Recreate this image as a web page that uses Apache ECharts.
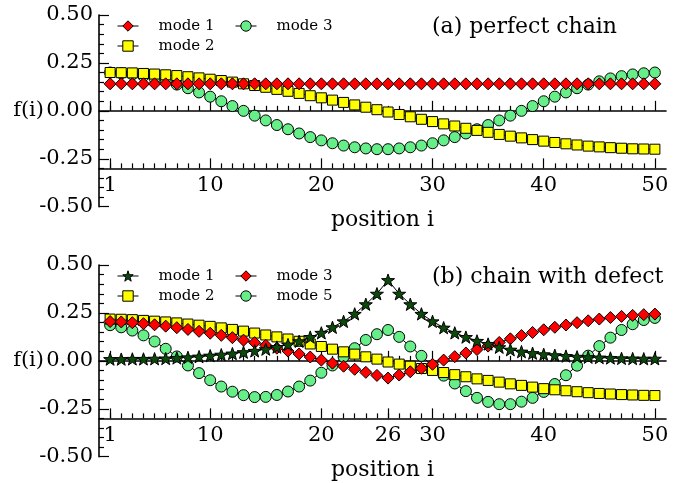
<!DOCTYPE html>
<html><head><meta charset="utf-8">
<script src="https://cdn.jsdelivr.net/npm/echarts@6/dist/echarts.min.js"></script>
<style>html,body{margin:0;padding:0;background:#fff}#c{width:697px;height:483px}</style>
</head><body><div id="c"></div>
<script>
const positions = [1,2,3,4,5,6,7,8,9,10,11,12,13,14,15,16,17,18,19,20,21,22,23,24,25,26,27,28,29,30,31,32,33,34,35,36,37,38,39,40,41,42,43,44,45,46,47,48,49,50];

// (a) perfect chain
const aMode1 = [0.141,0.141,0.141,0.141,0.141,0.141,0.141,0.141,0.141,0.141,0.141,0.141,0.141,0.141,0.141,0.141,0.141,0.141,0.141,0.141,0.141,0.141,0.141,0.141,0.141,0.141,0.141,0.141,0.141,0.141,0.141,0.141,0.141,0.141,0.141,0.141,0.141,0.141,0.141,0.141,0.141,0.141,0.141,0.141,0.141,0.141,0.141,0.141,0.141,0.141];
const aMode2 = [0.200,0.199,0.198,0.195,0.192,0.188,0.184,0.178,0.172,0.165,0.158,0.150,0.141,0.132,0.123,0.112,0.102,0.091,0.079,0.068,0.056,0.044,0.031,0.019,0.006,-0.006,-0.019,-0.031,-0.044,-0.056,-0.068,-0.079,-0.091,-0.102,-0.112,-0.123,-0.132,-0.141,-0.150,-0.158,-0.165,-0.172,-0.178,-0.184,-0.188,-0.192,-0.195,-0.198,-0.199,-0.200];
const aMode3 = [0.200,0.196,0.190,0.181,0.169,0.154,0.137,0.118,0.096,0.074,0.050,0.025,0.000,-0.025,-0.050,-0.074,-0.096,-0.118,-0.137,-0.154,-0.169,-0.181,-0.190,-0.196,-0.200,-0.200,-0.196,-0.190,-0.181,-0.169,-0.154,-0.137,-0.118,-0.096,-0.074,-0.050,-0.025,0.000,0.025,0.050,0.074,0.096,0.118,0.137,0.154,0.169,0.181,0.190,0.196,0.200];

// (b) chain with defect
const bMode1 = [0.009,0.009,0.010,0.010,0.011,0.012,0.015,0.018,0.022,0.027,0.032,0.038,0.045,0.052,0.061,0.072,0.085,0.102,0.124,0.146,0.175,0.206,0.245,0.295,0.350,0.421,0.350,0.295,0.245,0.206,0.173,0.146,0.124,0.104,0.088,0.071,0.058,0.048,0.040,0.034,0.029,0.025,0.021,0.019,0.017,0.015,0.013,0.012,0.011,0.011];
const bMode2 = [0.218,0.217,0.215,0.211,0.207,0.203,0.198,0.192,0.186,0.180,0.172,0.164,0.155,0.145,0.135,0.125,0.114,0.102,0.088,0.075,0.061,0.047,0.035,0.021,0.009,-0.006,-0.017,-0.028,-0.040,-0.050,-0.061,-0.072,-0.083,-0.094,-0.102,-0.111,-0.120,-0.128,-0.137,-0.145,-0.151,-0.156,-0.161,-0.166,-0.170,-0.173,-0.176,-0.178,-0.180,-0.181];
const bMode3 = [0.205,0.203,0.199,0.194,0.188,0.181,0.173,0.164,0.154,0.144,0.133,0.121,0.108,0.095,0.081,0.066,0.051,0.036,0.020,0.004,-0.012,-0.028,-0.044,-0.060,-0.076,-0.090,-0.074,-0.057,-0.039,-0.018,0.004,0.022,0.041,0.059,0.077,0.096,0.115,0.132,0.148,0.162,0.175,0.187,0.199,0.209,0.218,0.226,0.232,0.237,0.241,0.244];
const bMode5 = [0.186,0.175,0.158,0.133,0.101,0.063,0.023,-0.024,-0.064,-0.101,-0.134,-0.161,-0.179,-0.189,-0.188,-0.178,-0.160,-0.134,-0.103,-0.062,-0.024,0.021,0.066,0.109,0.139,0.161,0.125,0.075,0.026,-0.026,-0.077,-0.118,-0.158,-0.193,-0.214,-0.226,-0.226,-0.213,-0.193,-0.162,-0.121,-0.075,-0.025,0.027,0.077,0.121,0.161,0.191,0.213,0.224];

const xTicksA = [1,10,20,30,40,50];
const xTicksB = [1,10,20,26,30,40,50];
const titleA = '(a) perfect chain';
const titleB = '(b) chain with defect';
const xName = 'position i';
const yName = 'f(i)';

const SERIF = 'DejaVu Serif';
const STAR = 'path://M0,-10L2.35,-3.24L9.51,-3.09L3.8,1.24L5.88,8.09L0,4L-5.88,8.09L-3.8,1.24L-9.51,-3.09L-2.35,-3.24Z';

const L = 99, W = 567, FULLH = 191.7, DATAH = 153.36;
const TOPS = [15, 265];

function pts(vals){ return positions.map((p,k)=>[p, vals[k]]); }

const grids = [], xAxes = [], yAxes = [];
TOPS.forEach((top, pi) => {
  const ticks = pi === 0 ? xTicksA : xTicksB;
  grids.push({left:L, top:top, width:W, height:FULLH});
  grids.push({left:L, top:top, width:W, height:DATAH});
  const g0 = pi*2, g1 = pi*2+1;
  // zero line axis
  xAxes.push({
    gridIndex:g0, type:'value', min:0, max:51, interval:10, position:'bottom',
    axisLine:{show:true, onZero:true, lineStyle:{color:'#000', width:1.6}},
    axisTick:{show:true, inside:true, length:10, customValues:ticks, lineStyle:{color:'#000', width:1.2}},
    minorTick:{show:true, splitNumber:10, length:5, lineStyle:{color:'#000', width:1.2}},
    axisLabel:{show:false}, splitLine:{show:false}
  });
  // bottom axis at -0.3
  xAxes.push({
    gridIndex:g1, type:'value', min:0, max:51, interval:10, position:'bottom',
    axisLine:{show:true, onZero:false, lineStyle:{color:'#000', width:1.6}},
    axisTick:{show:true, inside:true, length:10, customValues:ticks, lineStyle:{color:'#000', width:1.2}},
    minorTick:{show:true, splitNumber:10, length:5, lineStyle:{color:'#000', width:1.2}},
    axisLabel:{show:true, customValues:ticks, margin:7, color:'#000', fontFamily:SERIF, fontSize:21},
    splitLine:{show:false},
    name:xName, nameLocation:'middle', nameGap:41,
    nameTextStyle:{color:'#000', fontFamily:SERIF, fontSize:22}
  });
  yAxes.push({
    gridIndex:g0, type:'value', min:-0.5, max:0.5, interval:0.25,
    axisLine:{show:true, onZero:false, lineStyle:{color:'#000', width:1.6}},
    axisTick:{show:true, inside:true, length:10, lineStyle:{color:'#000', width:1.2}},
    minorTick:{show:true, splitNumber:5, length:5, lineStyle:{color:'#000', width:1.2}},
    axisLabel:{show:true, margin:6, color:'#000', fontFamily:SERIF, fontSize:21, formatter:v=>v.toFixed(2)},
    splitLine:{show:false}
  });
  yAxes.push({
    gridIndex:g1, type:'value', min:-0.3, max:0.5, show:false,
    axisLine:{onZero:false}, splitLine:{show:false}
  });
});

function ser(name, xi, vals, symbol, size, color){
  return {
    name:name, type:'line', xAxisIndex:xi, yAxisIndex:xi, data:pts(vals),
    symbol:symbol, symbolSize:size, symbolKeepAspect:true, showSymbol:true,
    itemStyle:{color:color, borderColor:'#000', borderWidth:1},
    lineStyle:{color:'#000', width:1},
    emphasis:{disabled:true}, animation:false
  };
}

const series = [
  ser('a:mode 3', 0, aMode3, 'circle', 11, '#66ee88'),
  ser('a:mode 2', 0, aMode2, 'rect', 10, '#ffff00'),
  ser('a:mode 1', 0, aMode1, 'diamond', 12, '#ff0000'),
  ser('b:mode 5', 2, bMode5, 'circle', 11, '#66ee88'),
  ser('b:mode 2', 2, bMode2, 'rect', 10, '#ffff00'),
  ser('b:mode 3', 2, bMode3, 'diamond', 12, '#ff0000'),
  ser('b:mode 1', 2, bMode1, STAR, 13, '#0b4a0b')
];

function leg(left, top, names){
  return {
    orient:'vertical', left:left, top:top, padding:0, itemGap:5,
    itemWidth:21, itemHeight:13, data:names, formatter:n=>n.slice(2),
    selectedMode:false,
    itemStyle:{borderColor:'#000', borderWidth:1},
    lineStyle:{color:'#000', width:1},
    textStyle:{color:'#000', fontFamily:SERIF, fontSize:15, padding:[0,0,0,15]}
  };
}
const legends = [
  leg(117, 18.5, ['a:mode 1','a:mode 2']),
  leg(235, 18.5, ['a:mode 3']),
  leg(117, 268.5, ['b:mode 1','b:mode 2']),
  leg(235, 268.5, ['b:mode 3','b:mode 5'])
];

function txt(x, y, s, align, size){
  return {type:'text', x:x, y:y, silent:true,
    style:{text:s, align:align, verticalAlign:'middle', fill:'#000', font: size+'px "'+SERIF+'"'}};
}

const chart = echarts.init(document.getElementById('c'), null, {renderer:'canvas'});
chart.setOption({
  animation:false,
  backgroundColor:'#fff',
  grid:grids, xAxis:xAxes, yAxis:yAxes, series:series, legend:legends,
  graphic:[
    txt(44, 111, yName, 'right', 21),
    txt(44, 361, yName, 'right', 21),
    txt(432, 27, titleA, 'left', 22),
    txt(432, 277, titleB, 'left', 22)
  ]
});
</script></body></html>
